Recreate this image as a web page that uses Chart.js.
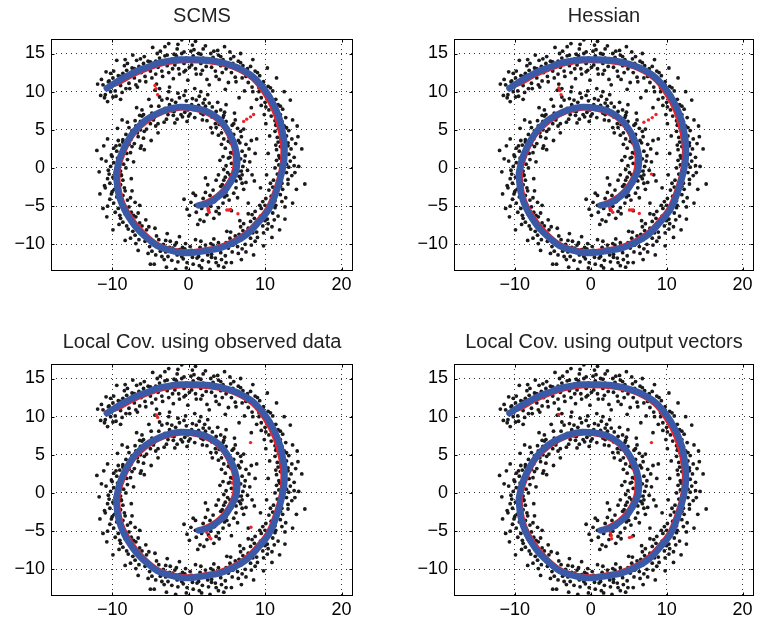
<!DOCTYPE html>
<html>
<head>
<meta charset="utf-8">
<script src="https://cdn.jsdelivr.net/npm/chart.js@4.4.1/dist/chart.umd.min.js"></script>
<style>
  html, body { margin: 0; padding: 0; background: #fff; }
  #wrap { position: relative; width: 758px; height: 629px; overflow: hidden; }
  #wrap canvas { position: absolute; }
</style>
</head>
<body>
<div id="wrap"></div>
<script>
// axis ticks
const xTicks = [-10, 0, 10, 20];
const yTicks = [-10, -5, 0, 5, 10, 15];

const panelTitles = [
  "SCMS",
  "Hessian",
  "Local Cov. using observed data",
  "Local Cov. using output vectors"
];

// noisy observations, inner arm (from the centre outwards)
const innerArmDots = [
  [0.3,-4.5],[1.0,-5.8],[1.9,-4.0],[0.6,-3.3],[2.4,-6.1],[1.5,-6.8],[-0.2,-5.4],[2.8,-4.6],[0.9,-4.9],[1.7,-5.3],[3.3,-6.6],[0.1,-6.2],[2.2,-3.2],[-0.6,-4.1],[1.2,-7.4],[2.6,-5.5],
  [3.2,-2.9],[4.5,-4.6],[2.8,-3.6],[4.9,-3.1],[3.9,-5.2],[2.5,-2.2],[4.2,-2.4],[5.3,-4.2],[3.4,-4.4],[4.0,-6.0],[2.9,-5.0],[5.6,-5.6],[3.6,-1.6],[4.7,-3.8],[3.1,-4.1],
  [4.8,-1.2],[6.2,-2.6],[5.1,-0.6],[6.8,-1.4],[4.4,-2.2],[5.9,-3.3],[6.5,-0.4],[4.6,-0.2],[5.6,-2.0],[7.2,-2.8],[5.0,-3.6],[6.1,-1.0],[3.9,-0.9],[7.0,-0.9],
  [5.6,0.6],[7.1,0.2],[6.0,-0.5],[5.2,1.3],[6.8,1.2],[7.7,-0.3],[5.8,1.9],[6.6,-1.1],[4.9,0.3],[7.4,1.6],[6.2,0.9],[8.0,0.8],[5.4,-0.9],[6.9,-0.4],
  [5.5,2.0],[6.7,3.3],[5.2,3.5],[7.0,2.2],[6.3,1.8],[5.8,3.9],[7.5,3.1],[4.8,2.6],[6.0,2.9],[6.9,4.1],[5.4,1.4],[7.9,2.5],[4.6,3.8],[6.5,3.6],
  [4.3,4.6],[5.7,5.6],[4.9,6.1],[5.9,4.4],[4.0,5.7],[5.3,4.0],[6.4,5.2],[4.5,6.6],[3.9,4.3],[6.1,6.3],[5.1,5.0],[3.6,5.3],[6.8,4.8],[4.7,7.3],[5.5,3.3],
  [2.7,7.3],[3.9,6.3],[3.1,8.0],[2.4,6.2],[4.2,7.6],[3.5,5.8],[2.2,8.1],[4.6,6.9],[3.0,6.7],[3.8,8.6],[1.9,7.0],[4.5,5.6],[2.9,5.3],[3.6,7.4],
  [0.4,8.3],[1.6,7.2],[1.0,8.9],[0.2,7.1],[1.9,8.5],[0.8,6.6],[1.4,9.4],[-0.2,8.0],[2.3,7.6],[1.1,7.7],[0.5,9.1],[1.8,6.3],[0.0,6.8],[2.1,9.0],[1.3,8.2],
  [-1.7,8.6],[-0.5,7.3],[-1.2,9.2],[-0.8,6.7],[-1.9,7.4],[-0.3,8.8],[-1.5,6.4],[-0.9,8.1],[-2.2,8.9],[-0.1,7.6],[-1.4,9.8],[-0.6,9.5],[-2.0,6.9],[-1.0,7.0],
  [-3.9,8.1],[-2.7,7.0],[-3.5,8.9],[-2.9,6.4],[-4.2,7.2],[-2.5,8.3],[-3.2,6.0],[-3.8,9.3],[-2.2,7.5],[-4.5,6.6],[-3.1,7.8],[-2.8,9.1],[-4.0,5.8],[-3.6,7.4],
  [-5.9,7.0],[-5.0,5.8],[-6.3,6.1],[-4.8,7.2],[-5.5,5.1],[-6.1,7.6],[-4.6,6.3],[-5.8,4.8],[-5.2,6.7],[-6.7,5.5],[-4.9,8.1],[-5.6,6.2],[-6.4,6.9],[-4.3,5.5],
  [-7.8,5.3],[-6.6,4.1],[-7.5,3.8],[-6.9,5.5],[-8.2,4.4],[-6.3,5.0],[-7.1,3.2],[-8.0,6.0],[-6.7,4.6],[-7.4,4.9],[-8.6,3.7],[-5.9,3.9],[-7.0,6.2],[-6.2,2.9],
  [-9.0,3.0],[-8.1,1.9],[-9.4,2.2],[-7.8,3.1],[-8.7,1.4],[-9.2,3.6],[-8.3,2.7],[-7.6,2.0],[-9.8,2.6],[-8.6,3.4],[-10.1,1.7],[-8.0,1.1],[-9.5,2.9],[-7.4,2.8],[-5.8,2.4],
  [-9.8,0.7],[-8.9,-0.4],[-10.2,0.2],[-9.0,0.9],[-9.6,-0.6],[-8.5,0.5],[-10.5,-0.3],[-9.3,1.3],[-8.8,-1.0],[-10.0,1.5],[-9.4,-0.1],[-11.7,-0.5],[-12.0,2.3],[-8.2,0.0],[-10.8,0.9],
  [-9.9,-1.2],[-8.9,-2.2],[-10.3,-2.0],[-9.1,-1.0],[-9.7,-2.8],[-8.6,-1.6],[-10.6,-1.4],[-9.3,-2.4],[-10.0,-3.1],[-8.4,-2.6],[-9.5,-1.8],[-11.0,-2.3],[-8.8,-0.9],[-10.4,-0.8],
  [-9.4,-3.8],[-8.4,-4.9],[-9.8,-4.6],[-8.6,-3.6],[-9.2,-5.3],[-8.0,-4.2],[-10.3,-4.1],[-8.9,-4.4],[-9.6,-5.8],[-7.8,-5.1],[-10.1,-3.4],[-8.3,-3.0],[-9.0,-6.2],[-7.6,-3.9],[-10.6,-5.0],
  [-8.3,-6.0],[-7.3,-7.0],[-8.6,-7.1],[-7.5,-5.8],[-8.1,-7.6],[-6.9,-6.4],[-8.9,-6.6],[-7.7,-6.6],[-7.0,-7.5],[-8.4,-5.4],[-6.6,-5.9],[-7.9,-8.0],[-9.1,-7.4],[-7.2,-6.2],
  [-6.8,-7.9],[-5.8,-8.9],[-7.0,-8.8],[-6.1,-7.6],[-6.5,-9.4],[-5.5,-8.1],[-7.3,-8.3],[-6.2,-8.5],[-5.7,-9.6],[-6.9,-9.9],[-5.2,-7.7],[-7.6,-9.2],[-6.4,-7.2],[-5.9,-8.6],
  [-4.6,-9.7],[-3.6,-10.7],[-4.8,-10.9],[-3.9,-9.4],[-4.3,-11.4],[-3.3,-10.0],[-5.1,-10.3],[-4.0,-10.4],[-3.5,-11.6],[-4.5,-12.6],[-3.0,-9.5],[-5.3,-11.2],[-4.2,-8.9],[-3.7,-10.9],
  [-2.5,-10.4],[-1.5,-11.4],[-2.7,-11.6],[-1.8,-10.1],[-2.2,-12.1],[-1.2,-10.7],[-3.0,-11.0],[-1.9,-11.0],[-1.4,-12.3],[-2.4,-9.6],[-0.9,-11.6],[-3.2,-12.0],[-2.1,-10.5],[-1.6,-9.8],
  [-0.5,-10.6],[0.5,-11.7],[-0.7,-11.9],[0.2,-10.3],[-0.2,-12.4],[0.8,-10.9],[-1.0,-11.2],[0.1,-11.3],[0.6,-12.6],[-0.4,-9.9],[1.1,-11.8],[-0.3,-13.1],[0.4,-10.8],[-0.8,-10.4],
  [-4.9,3.6],[2.2,-1.3],[4.1,1.0],
  [0.9,-3.6],[2.0,-7.0],[3.6,-5.7],[4.6,-1.6],[7.5,-1.9],[6.4,-3.9],[8.3,-0.9],[7.3,0.9],[4.5,1.5],[8.2,3.6],
  [7.2,5.1],[3.1,4.6],[6.0,7.2],[2.5,9.6],[4.9,8.3],[-0.4,10.1],[1.6,10.0],[-2.6,10.0],[-1.8,5.9],[-3.8,10.4],
  [-5.2,9.0],[-6.8,7.9],[-4.0,4.6],[-8.7,6.3],[-9.3,5.2],[-6.3,2.6],[-10.6,3.8],[-11.1,2.9],[-7.2,0.8],[-11.4,1.2],
  [-7.5,-1.4],[-11.6,-3.4],[-7.4,-3.0],[-11.2,-5.3],[-10.7,-6.4],[-6.4,-4.9],[-9.9,-8.1],[-5.6,-6.8],[-8.3,-9.5],[-4.4,-7.9],
  [-6.6,-10.8],[-2.8,-8.6],[-5.0,-12.6],[-1.2,-9.0],[-2.9,-13.0],[0.9,-9.4],[-1.7,-13.3],[0.2,-13.6],[-9.6,-1.5],[-8.9,1.8],
  [-7.0,-4.5],[-10.9,-2.6],[-6.1,6.8],[-0.2,6.1],[2.7,8.5],[4.3,3.1],[5.9,5.8],[7.0,-2.0],[6.2,-1.7],[8.7,1.9]
];

// noisy observations, outer arm
const outerArmDots = [
  [1.5,-10.4],[2.5,-11.4],[1.3,-11.6],[2.2,-10.1],[1.8,-12.1],[2.8,-10.7],[1.0,-11.0],[2.1,-11.0],[2.6,-12.3],[1.6,-9.6],[3.0,-11.7],[1.4,-12.8],[2.3,-10.6],[2.9,-9.9],
  [3.2,-10.1],[4.2,-11.1],[3.0,-11.3],[3.9,-9.8],[3.5,-11.8],[4.5,-10.4],[2.7,-10.7],[3.8,-10.7],[4.3,-12.0],[3.3,-9.3],[4.8,-11.5],[3.6,-12.4],[4.1,-10.2],[3.4,-10.5],
  [5.4,-9.2],[6.4,-10.3],[5.2,-10.5],[6.1,-8.9],[5.7,-11.0],[6.7,-9.5],[4.9,-9.8],[6.0,-9.9],[6.5,-11.2],[5.5,-8.4],[7.0,-10.6],[5.6,-12.4],[6.3,-9.3],[5.8,-10.1],
  [7.1,-8.2],[8.1,-9.2],[6.9,-9.4],[7.8,-7.9],[7.4,-10.0],[8.4,-8.5],[6.6,-8.7],[7.7,-8.8],[8.2,-10.1],[7.2,-7.3],[8.7,-9.6],[7.5,-11.0],[8.0,-8.2],[6.8,-7.7],
  [8.6,-6.6],[9.7,-7.6],[8.4,-7.8],[9.4,-6.3],[8.9,-8.4],[10.0,-6.9],[8.1,-7.0],[9.2,-7.2],[9.8,-8.5],[8.7,-5.7],[10.3,-8.0],[9.0,-9.1],[9.6,-6.5],[8.3,-6.1],
  [10.0,-4.9],[11.0,-5.9],[9.8,-6.1],[10.7,-4.6],[10.3,-6.7],[11.3,-5.2],[9.5,-5.3],[10.6,-5.5],[11.2,-6.8],[10.1,-4.0],[11.7,-6.3],[10.4,-7.3],[11.0,-4.8],[9.7,-4.4],[11.9,-8.1],
  [11.0,-2.5],[12.0,-3.5],[10.8,-3.7],[11.7,-2.2],[11.3,-4.3],[12.3,-2.8],[10.5,-2.9],[11.6,-3.1],[12.2,-4.4],[11.1,-1.6],[12.7,-3.9],[11.4,-4.9],[12.0,-2.4],[10.7,-2.0],[13.0,-2.1],
  [11.8,0.4],[12.8,-0.6],[11.6,-0.8],[12.5,0.7],[12.1,-1.4],[13.1,0.1],[11.3,0.0],[12.4,-0.2],[13.0,-1.5],[11.9,1.3],[13.5,-1.0],[12.2,-2.0],[12.8,0.5],[11.5,1.0],[15.2,-2.1],[13.8,0.3],
  [12.0,2.8],[13.1,1.8],[11.8,1.6],[12.8,3.1],[12.3,1.0],[13.4,2.5],[11.5,2.4],[12.6,2.2],[13.3,0.9],[12.1,3.7],[13.8,1.4],[12.4,0.4],[13.0,2.9],[11.7,3.4],[14.8,2.5],[14.0,3.2],
  [11.8,5.2],[12.8,4.2],[11.6,4.0],[12.5,5.5],[12.1,3.4],[13.1,4.9],[11.3,4.8],[12.4,4.6],[13.0,3.3],[11.9,6.1],[13.5,3.8],[12.2,2.8],[12.8,5.3],[11.5,5.8],[13.6,6.3],
  [11.0,8.0],[12.0,7.0],[10.8,6.8],[11.7,8.3],[11.3,6.2],[12.3,7.7],[10.5,7.6],[11.6,7.4],[12.2,6.1],[11.1,8.9],[12.7,6.6],[11.4,5.6],[12.0,8.1],[10.7,8.6],[9.9,7.0],
  [9.7,10.4],[10.7,9.4],[9.5,9.2],[10.4,10.7],[10.0,8.6],[11.0,10.1],[9.2,10.0],[10.3,9.8],[10.9,8.5],[9.8,11.3],[11.4,9.0],[10.1,8.0],[10.7,10.5],[9.4,11.0],
  [8.0,12.4],[9.0,11.4],[7.8,11.2],[8.7,12.7],[8.3,10.6],[9.3,12.1],[7.5,12.0],[8.6,11.8],[9.2,10.5],[8.1,13.3],[9.7,11.0],[8.4,10.0],[9.0,12.5],[7.7,13.0],
  [5.8,13.7],[6.8,12.7],[5.6,12.5],[6.5,14.0],[6.1,11.9],[7.1,13.4],[5.3,13.3],[6.4,13.1],[7.0,11.8],[5.9,14.6],[7.5,12.3],[6.2,11.3],[6.8,13.8],[5.5,14.3],
  [3.2,14.5],[4.2,13.4],[3.0,13.2],[3.9,14.8],[3.5,12.7],[4.5,14.2],[2.7,14.1],[3.8,13.9],[4.4,12.5],[3.3,15.3],[4.9,13.0],[3.6,12.0],[4.2,14.6],[2.9,15.0],[2.7,10.9],
  [0.6,14.7],[1.6,13.7],[0.4,13.5],[1.3,15.0],[0.9,13.0],[1.9,14.4],[0.1,14.3],[1.2,14.1],[1.8,12.8],[0.7,15.5],[2.3,13.3],[1.0,12.3],[1.6,14.9],[0.3,15.3],[0.5,16.1],
  [-1.6,14.7],[-0.6,13.7],[-1.8,13.5],[-0.9,15.0],[-1.3,13.0],[-0.3,14.4],[-2.1,14.3],[-1.0,14.1],[-0.4,12.8],[-1.5,15.6],[0.1,13.2],[-1.2,12.3],[-0.6,15.2],[-1.9,14.9],[-0.9,16.8],[-1.4,16.2],
  [-3.8,14.4],[-2.8,13.4],[-4.0,13.2],[-3.1,14.7],[-3.5,12.7],[-2.5,14.1],[-4.3,14.0],[-3.2,13.8],[-2.6,12.5],[-3.7,15.3],[-2.1,13.0],[-3.4,12.0],[-2.8,14.8],[-4.1,15.0],
  [-5.9,13.7],[-5.0,12.7],[-6.2,12.5],[-5.3,14.0],[-5.7,12.0],[-4.7,13.4],[-6.5,13.3],[-5.4,13.1],[-4.8,11.8],[-5.8,14.6],[-4.3,12.3],[-5.6,11.3],[-5.0,13.9],[-6.3,14.3],
  [-8.1,12.8],[-7.1,11.8],[-8.3,11.6],[-7.4,13.1],[-7.8,11.1],[-6.8,12.5],[-8.6,12.4],[-7.5,12.2],[-6.9,10.9],[-8.0,13.7],[-6.4,11.4],[-7.7,10.4],[-7.1,13.0],[-8.4,13.4],
  [-9.9,11.8],[-8.9,10.8],[-10.1,10.6],[-9.2,12.1],[-9.6,10.1],[-8.6,11.5],[-10.4,11.4],[-9.3,11.2],[-8.7,9.9],[-9.8,12.7],[-8.2,10.4],[-9.5,9.4],[-8.9,12.0],[-10.2,12.4],
  [-11.2,10.9],[-10.2,10.0],[-10.9,9.6],[-10.5,11.3],[-11.0,9.2],[-10.0,10.8],[-11.4,11.6],[-10.6,10.5],[-9.9,9.3],
  [-4.4,10.2],[-2.5,10.6],[0.8,10.4],[4.8,10.3],[6.6,9.2],[8.2,7.9],[8.9,3.8],[8.6,-1.7],[7.8,-4.6],
  [1.7,-13.1],[3.9,-12.8],[4.6,-13.0],[6.9,-12.0],[5.0,-8.3],[8.5,-11.4],[6.7,-6.9],[9.8,-10.2],[7.8,-6.0],[10.9,-9.1],
  [9.3,-4.9],[12.6,-6.7],[9.4,-2.6],[13.6,-4.6],[10.2,-0.9],[14.1,-2.8],[10.4,1.9],[14.4,0.2],[10.6,4.2],[14.3,4.1],
  [10.1,5.8],[14.2,5.5],[9.5,8.2],[13.3,8.9],[12.5,10.0],[8.9,9.0],[11.5,11.8],[7.3,10.1],[10.3,13.1],[5.2,11.2],
  [8.4,14.2],[6.8,15.0],[4.7,15.9],[2.4,11.6],[2.2,16.0],[-0.1,11.5],[0.9,16.6],[-2.0,11.7],[-2.6,16.3],[-4.2,11.0],
  [-4.7,15.8],[-6.7,10.6],[-7.3,14.8],[-8.9,9.0],[-9.4,14.1],[-10.8,12.6],[-11.9,11.0],[-11.5,9.5],[-10.6,8.7],[-3.1,15.9],
  [1.9,15.6],[3.8,15.4],[5.4,15.2],[-6.8,14.1],[-8.3,14.2],[-0.6,12.6],[1.6,12.3],[4.0,11.6],[11.4,3.0],[13.9,-0.6],
  [12.6,-5.1],[10.9,-7.7],[4.9,-12.4],[2.8,-13.3]
];

// generating spiral
const spiralCurve = [
  [1.3,-4.9],[2.6,-4.6],[3.7,-3.9],[4.7,-3.0],[5.45,-1.9],[6.0,-0.9],[6.3,0.1],[6.35,1.4],[6.1,2.7],[5.65,3.95],
  [5.0,5.1],[4.25,6.1],[3.3,6.9],[2.25,7.45],[1.1,7.8],[0,7.95],[-1.1,8.0],[-2.2,7.85],[-3.3,7.5],[-4.4,7.0],
  [-5.45,6.4],[-6.4,5.6],[-7.2,4.7],[-7.9,3.65],[-8.5,2.5],[-9.0,1.3],[-9.3,0.1],[-9.45,-0.8],[-9.4,-1.7],[-9.25,-3.0],
  [-8.9,-4.3],[-8.4,-5.45],[-7.8,-6.5],[-7.1,-7.5],[-6.3,-8.4],[-5.25,-9.35],[-4.1,-10.2],[-3.05,-10.6],[-2.0,-10.9],[-1.0,-11.1],
  [0,-11.15],[1.0,-11.05],[2.0,-10.9],[2.85,-10.75],[3.7,-10.6],[4.8,-10.25],[5.9,-9.75],[6.8,-9.25],[7.6,-8.7],[8.4,-7.95],
  [9.15,-7.1],[9.9,-6.25],[10.5,-5.4],[11.05,-4.25],[11.5,-3.0],[11.95,-1.55],[12.3,-0.1],[12.5,1.1],[12.55,2.3],[12.5,3.5],
  [12.3,4.7],[12.0,6.1],[11.5,7.5],[10.9,8.75],[10.2,9.9],[9.4,10.95],[8.5,11.9],[7.45,12.6],[6.3,13.2],[5.0,13.65],
  [3.7,13.95],[2.4,14.15],[1.1,14.2],[0,14.22],[-1.1,14.2],[-2.2,14.1],[-3.3,13.9],[-4.4,13.6],[-5.45,13.2],[-6.55,12.8],
  [-7.6,12.3],[-8.55,11.8],[-9.4,11.3],[-10.1,10.85],[-10.7,10.45]
];

// estimated ridge (shared by all four methods)
const ridgeCurve = [
  [1.5,-4.7],[3.6,-3.6],[5.1,-1.9],[5.9,0.1],[5.8,2.6],[4.8,4.9],[3.2,6.6],[1.1,7.5],[-1.1,7.7],[-3.3,7.2],
  [-5.3,6.1],[-7.0,4.5],[-8.2,2.4],[-9.0,0.1],[-9.1,-1.7],[-8.6,-4.2],[-7.5,-6.3],[-6.1,-8.1],[-4.0,-9.9],[-2.0,-10.6],
  [0,-10.85],[2.0,-10.6],[3.7,-10.3],[5.8,-9.45],[7.4,-8.45],[8.9,-6.9],[10.2,-5.25],[11.2,-2.9],[12.0,-0.1],[12.2,2.3],
  [11.9,4.6],[11.1,7.3],[9.9,9.6],[8.3,11.6],[6.2,12.9],[3.6,13.65],[1.1,13.9],[-1.1,13.9],[-3.3,13.55],[-5.4,12.85],
  [-7.5,11.95],[-9.3,10.95],[-11.0,10.6]
];

// points that did not converge onto the ridge, per method
const scmsStray = [
  [-4.4,10.8],[-4.25,10.4],[-4.05,9.6],[7.2,6.1],[7.6,6.4],[8.1,6.7],[8.5,7.0],
  [5.0,-5.5],[5.25,-5.5],[5.5,-5.45],[6.45,-6.0],[2.5,-5.2],[2.6,-5.5],[2.7,-5.8]
];
const hessianStray = [
  [-4.2,10.5],[-4.05,10.15],[-3.9,9.6],[7.0,6.0],[7.6,6.3],[8.1,6.6],[8.6,7.0],[8.0,-0.8],
  [2.5,-5.2],[2.7,-5.5],[2.9,-5.8],[5.1,-5.5],[5.35,-5.5],[5.6,-5.5],[6.4,-5.95]
];
const obsCovStray = [
  [-4.2,10.2],[-4.05,9.9],[8.1,6.6],[8.15,-4.5],[2.4,-5.2],[2.7,-5.7],[2.9,-6.0],[5.7,1.3],[5.9,-0.5]
];
const outCovStray = [
  [-4.2,10.3],[8.0,6.6],[2.6,-5.2],[2.7,-5.6],[2.75,-6.0],[5.1,-5.85],[5.4,-5.75],[6.0,2.1],[6.2,1.3]
];

const strayByPanel = [scmsStray, hessianStray, obsCovStray, outCovStray];

// canvas placement: [left, top, width, height, yAxisWidth, xAxisHeight, titleTop, headerHeight]
const panelBoxes = [
  [0, 0, 379, 310, 51, 39, 4, 39],
  [379, 0, 379, 310, 75, 39, 4, 39],
  [0, 310, 379, 319, 51, 33, 20, 54],
  [379, 310, 379, 319, 75, 33, 20, 54]
];
const PLOT_W = 302;

const FONT = "'Liberation Sans', Arial, Helvetica, sans-serif";
const toXY = arr => arr.map(p => ({ x: p[0], y: p[1] }));
const minusSign = v => String(v).replace('-', '\u2212');

// box round the axes with small inward ticks
const frameBox = {
  id: 'frameBox',
  afterDraw(chart) {
    const { ctx, chartArea: a, scales } = chart;
    const l = Math.round(a.left) + 0.5, t = Math.round(a.top) + 0.5;
    const r = Math.round(a.right) - 0.5, b = Math.round(a.bottom) - 0.5;
    ctx.save();
    ctx.strokeStyle = '#000';
    ctx.lineWidth = 1;
    ctx.setLineDash([]);
    ctx.strokeRect(l, t, r - l, b - t);
    ctx.beginPath();
    xTicks.forEach(v => {
      const px = Math.round(scales.x.getPixelForValue(v)) + 0.5;
      ctx.moveTo(px, b); ctx.lineTo(px, b - 3);
      ctx.moveTo(px, t); ctx.lineTo(px, t + 3);
    });
    yTicks.forEach(v => {
      const py = Math.round(scales.y.getPixelForValue(v)) + 0.5;
      ctx.moveTo(l, py); ctx.lineTo(l + 3, py);
      ctx.moveTo(r, py); ctx.lineTo(r - 3, py);
    });
    ctx.stroke();
    ctx.restore();
  }
};

const wrap = document.getElementById('wrap');
const allDots = toXY(innerArmDots.concat(outerArmDots));

panelBoxes.forEach((box, i) => {
  const [left, top, w, h, yW, xH, titleTop, headerH] = box;
  const canvas = document.createElement('canvas');
  canvas.width = w;
  canvas.height = h;
  canvas.style.left = left + 'px';
  canvas.style.top = top + 'px';
  canvas.style.width = w + 'px';
  canvas.style.height = h + 'px';
  wrap.appendChild(canvas);

  const titleSize = 20;
  const titleBottom = headerH - titleTop - titleSize * 1.2;

  new Chart(canvas.getContext('2d'), {
    type: 'scatter',
    data: {
      datasets: [
        {
          data: toXY(spiralCurve), showLine: true, tension: 0.4,
          borderColor: '#3a5aa8', borderWidth: 6.5, borderCapStyle: 'round',
          pointRadius: 0, order: 0
        },
        {
          data: toXY(strayByPanel[i]), backgroundColor: '#ee2228', borderWidth: 0,
          pointRadius: 1.7, order: 1
        },
        {
          data: toXY(ridgeCurve), showLine: true, tension: 0.4,
          borderColor: '#ee2228', borderWidth: 3, pointRadius: 0, order: 2
        },
        {
          data: allDots, backgroundColor: '#1a1a1a', borderWidth: 0,
          pointRadius: 1.9, order: 3
        }
      ]
    },
    options: {
      responsive: false,
      animation: false,
      devicePixelRatio: 1,
      events: [],
      layout: { padding: { left: 0, right: w - yW - PLOT_W, top: 0, bottom: 0 } },
      plugins: {
        legend: { display: false },
        tooltip: { enabled: false },
        title: {
          display: true,
          text: panelTitles[i],
          fullSize: false,
          color: '#222',
          font: { family: FONT, size: titleSize, weight: 'normal', lineHeight: 1.2 },
          padding: { top: titleTop, bottom: titleBottom }
        }
      },
      scales: {
        x: {
          type: 'linear', min: -18, max: 21.5,
          afterBuildTicks: s => { s.ticks = xTicks.map(v => ({ value: v })); },
          afterFit: s => { s.height = xH; },
          grid: { color: '#333', lineWidth: 1, drawTicks: false },
          border: { display: false, dash: [1, 4] },
          ticks: {
            color: '#000', padding: 3, autoSkip: false, maxRotation: 0,
            font: { family: FONT, size: 18 }, callback: minusSign
          }
        },
        y: {
          type: 'linear', min: -13.5, max: 16.9,
          afterBuildTicks: s => { s.ticks = yTicks.map(v => ({ value: v })); },
          afterFit: s => { s.width = yW; },
          grid: { color: '#333', lineWidth: 1, drawTicks: false },
          border: { display: false, dash: [1, 4] },
          ticks: {
            color: '#000', padding: 6,
            font: { family: FONT, size: 18 }, callback: minusSign
          }
        }
      }
    },
    plugins: [frameBox]
  });
});
</script>
</body>
</html>
